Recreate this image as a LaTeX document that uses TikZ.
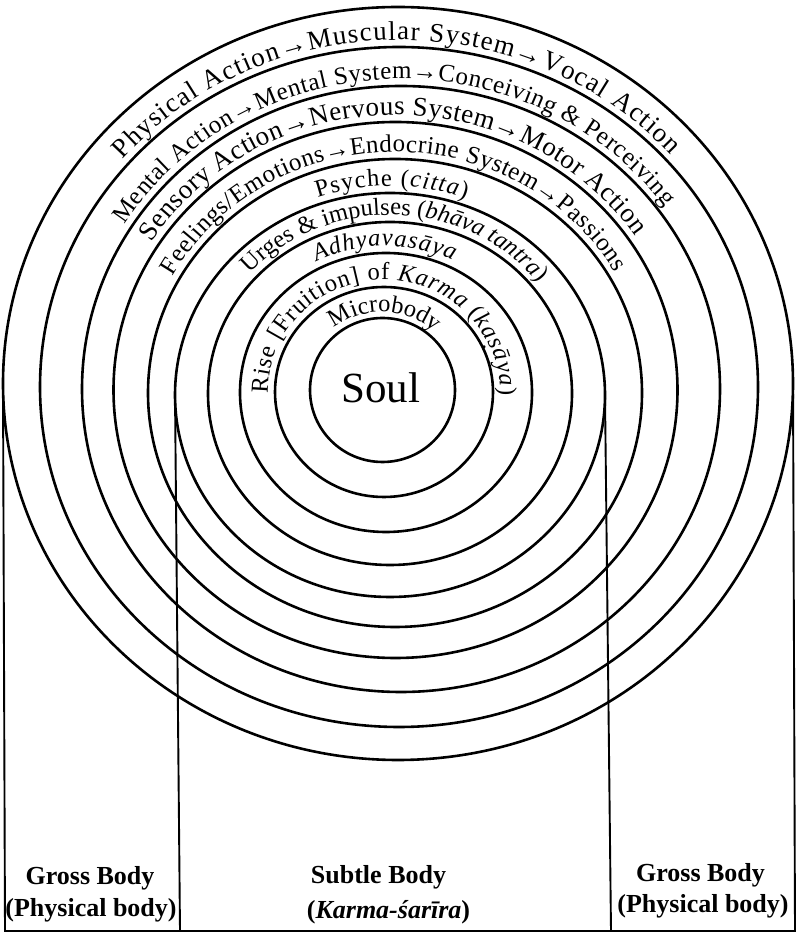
\documentclass[tikz,border=0pt]{standalone}
\usepackage{fontspec}
\setmainfont{Liberation Serif}
\usetikzlibrary{shapes.geometric,decorations.text,positioning}

\newcommand\bandfont{\fontsize{27}{27}\selectfont}
\newcommand\tightfont{\fontsize{25}{25}\selectfont}
\newcommand\innerfont{\fontsize{24.5}{24.5}\selectfont}
\newcommand\sdot{\ooalign{s\crcr\hidewidth\raisebox{-0.55ex}{.}\hidewidth\crcr}}

\begin{document}
\begin{tikzpicture}[
    x=1pt, y=1pt,
    ring/.style={draw, ellipse, line width=2.6pt, inner sep=0pt, outer sep=0pt},
    band/.style={decorate, decoration={text along path, text align={fit to path}}},
    divider/.style={line width=1.9pt},
    lbl/.style={font=\fontsize{26}{26}\selectfont\bfseries, inner sep=0pt, anchor=base}
  ]
    \useasboundingbox (0,0) rectangle (799,934);

    % the rings, inside out
    \node[ring, minimum width=145pt, minimum height=144pt] (ring1) at (382.5,544) {};
    \node[ring, minimum width=218pt, minimum height=210pt] (ring2) at (384,542) {};
    \node[ring, minimum width=292pt, minimum height=279pt] (ring3) at (386,541.5) {};
    \node[ring, minimum width=364pt, minimum height=343pt] (ring4) at (390,540.5) {};
    \node[ring, minimum width=430pt, minimum height=404pt] (ring5) at (390,539) {};
    \node[ring, minimum width=494pt, minimum height=468pt] (ring6) at (395,541) {};
    \node[ring, minimum width=564pt, minimum height=536pt] (ring7) at (395.5,544) {};
    \node[ring, minimum width=638pt, minimum height=606pt] (ring8) at (401,545) {};
    \node[ring, minimum width=718pt, minimum height=680pt] (ring9) at (399,547) {};
    \node[ring, minimum width=790pt, minimum height=753pt] (ring10) at (398,550.5) {};

    \node[font=\fontsize{43}{43}\selectfont] (soul) at (381,546) {Soul};

    % texts along the bands
    \path[band, decoration={text={|\innerfont|Microbody}}]
      ([shift={(128:78.5 and 78)}]ring1.center) arc[start angle=128, end angle=49, x radius=78.5, y radius=78];
    \path[band, decoration={text={|\innerfont|Rise [Fruition] of |\innerfont\itshape|Karma|\innerfont| (|\innerfont\itshape|ka{\sdot}āya|\innerfont|)}}]
      ([shift={(181:116 and 112)}]ring2.center) arc[start angle=181, end angle=-2, x radius=116, y radius=112];
    \path[band, decoration={text={|\innerfont\itshape|Adhyavasāya}}]
      ([shift={(117:153 and 146.5)}]ring3.center) arc[start angle=117, end angle=64, x radius=153, y radius=146.5];
    \path[band, decoration={text={|\innerfont|Urges {\&} impulses (|\innerfont\itshape|bhāva tantra|\innerfont|)}}]
      ([shift={(138:189 and 178.5)}]ring4.center) arc[start angle=138, end angle=39, x radius=189, y radius=178.5];
    \path[band, decoration={text={|\innerfont|Psyche (|\innerfont\itshape|citta|\innerfont|)}}]
      ([shift={(109:222 and 209)}]ring5.center) arc[start angle=109, end angle=70, x radius=222, y radius=209];
    \path[band, decoration={text={|\tightfont|Feelings/Emotions→Endocrine System→Passions}}]
      ([shift={(151:254 and 241)}]ring6.center) arc[start angle=151, end angle=30, x radius=254, y radius=241];
    \path[band, decoration={text={|\bandfont|Sensory Action→Nervous System→Motor Action}}]
      ([shift={(147.5:289 and 275)}]ring7.center) arc[start angle=147.5, end angle=34, x radius=289, y radius=275];
    \path[band, decoration={text={|\tightfont|Mental Action→Mental System→Conceiving {\&} Perceiving}}]
      ([shift={(148:326 and 310)}]ring8.center) arc[start angle=148, end angle=36, x radius=326, y radius=310];
    \path[band, decoration={text={|\bandfont|Physical Action→Muscular System→Vocal Action}}]
      ([shift={(139:366 and 347)}]ring9.center) arc[start angle=139, end angle=42, x radius=366, y radius=347];

    % the three bodies
    \coordinate (floorL) at (5,3);
    \coordinate (floorR) at (795,3);
    \coordinate (cutL) at (180,3);
    \coordinate (cutR) at (611,3);
    \draw[divider] (ring10.west) -- (floorL) -- (floorR) -- (ring10.east);
    \draw[divider] (ring5.west) -- (cutL);
    \draw[divider] (ring5.east) -- (cutR);

    \node[lbl] (grossL) at (90,49) {Gross Body};
    \node[lbl] (physL) at (91,17) {(Physical body)};
    \node[lbl] (subtle) at (378.5,50) {Subtle Body};
    \node[lbl] (karma) at (388.5,16) {(\textit{Karma-śarīra})};
    \node[lbl] (grossR) at (700.5,52) {Gross Body};
    \node[lbl] (physR) at (703,21) {(Physical body)};
  \end{tikzpicture}
\end{document}
